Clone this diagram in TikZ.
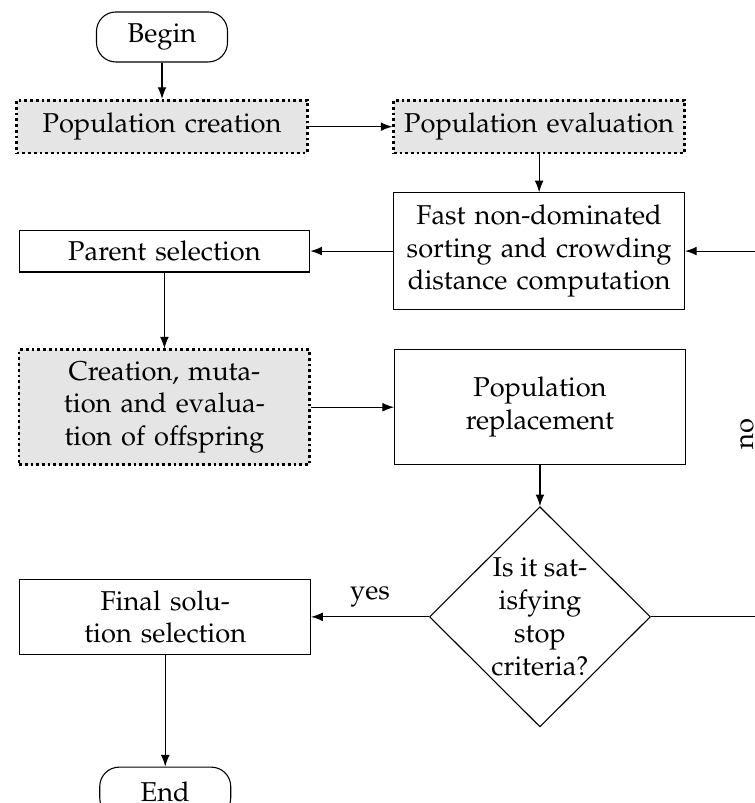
\documentclass[tikz,border=0pt]{standalone}
\usepackage[T1]{fontenc}
\usepackage{mathpazo}
\usepackage{tikz}
\usetikzlibrary{arrows.meta,positioning,shapes.geometric}

\begin{document}
\begin{tikzpicture}[node distance=5mm, every node/.style={font=\normalsize},box/.style={draw,align=center,text width=3.55cm,inner xsep=0.1cm},proc/.style={box,fill=black!10,dash pattern=on 1pt off 1.1pt,line width=1pt},term/.style={draw,rounded corners=2.5mm,minimum width=1.69cm,minimum height=0.645cm},cond/.style={draw,diamond,align=center,inner sep=-2pt,minimum width=2.85cm,minimum height=2.84cm},arr/.style={-{Latex[length=1.5mm]}}]
\useasboundingbox (0,0) rectangle (9.727,-10.359);
\node[term] (begin) at (2.09,-0.477) {Begin};
\node[proc,below=0.47cm of begin,minimum height=0.68cm] (create) {Population creation};
\node[proc,right=1.08cm of create,minimum height=0.68cm] (evalpop) {Population evaluation};
\node[box,below=0.49cm of evalpop,minimum height=1.5cm] (sort) {Fast non-dominated\\sorting and crowding\\distance computation};
\node[box,left=1.07cm of sort,minimum height=0.54cm] (parent) {Parent selection};
\node[proc,below=0.98cm of parent,minimum height=1.48cm] (offspring) {Creation, muta-\\tion and evalua-\\tion of offspring};
\node[box,right=1.07cm of offspring,minimum height=1.48cm] (replace) {Population\\replacement};
\node[cond,below=0.53cm of replace] (check) {Is it sat-\\isfying\\stop\\criteria?};
\node[box,left=1.52cm of check,minimum height=0.97cm] (final) {Final solu-\\tion selection};
\node[term,below=1.44cm of final] (done) {End};
\draw[arr] (begin)--(create);\draw[arr] (create)--(evalpop);\draw[arr] (evalpop)--(sort);\draw[arr] (sort)--(parent);
\draw[arr] (parent)--(offspring);\draw[arr] (offspring)--(replace);\draw[arr] (replace)--(check);
\draw[arr] (check)--node[above]{yes}(final);\draw[arr] (final)--(done);
\draw[arr] (check.east)--++(1.45,0) |- node[pos=0.25,sloped,above]{no} (sort.east);
\end{tikzpicture}
\end{document}
